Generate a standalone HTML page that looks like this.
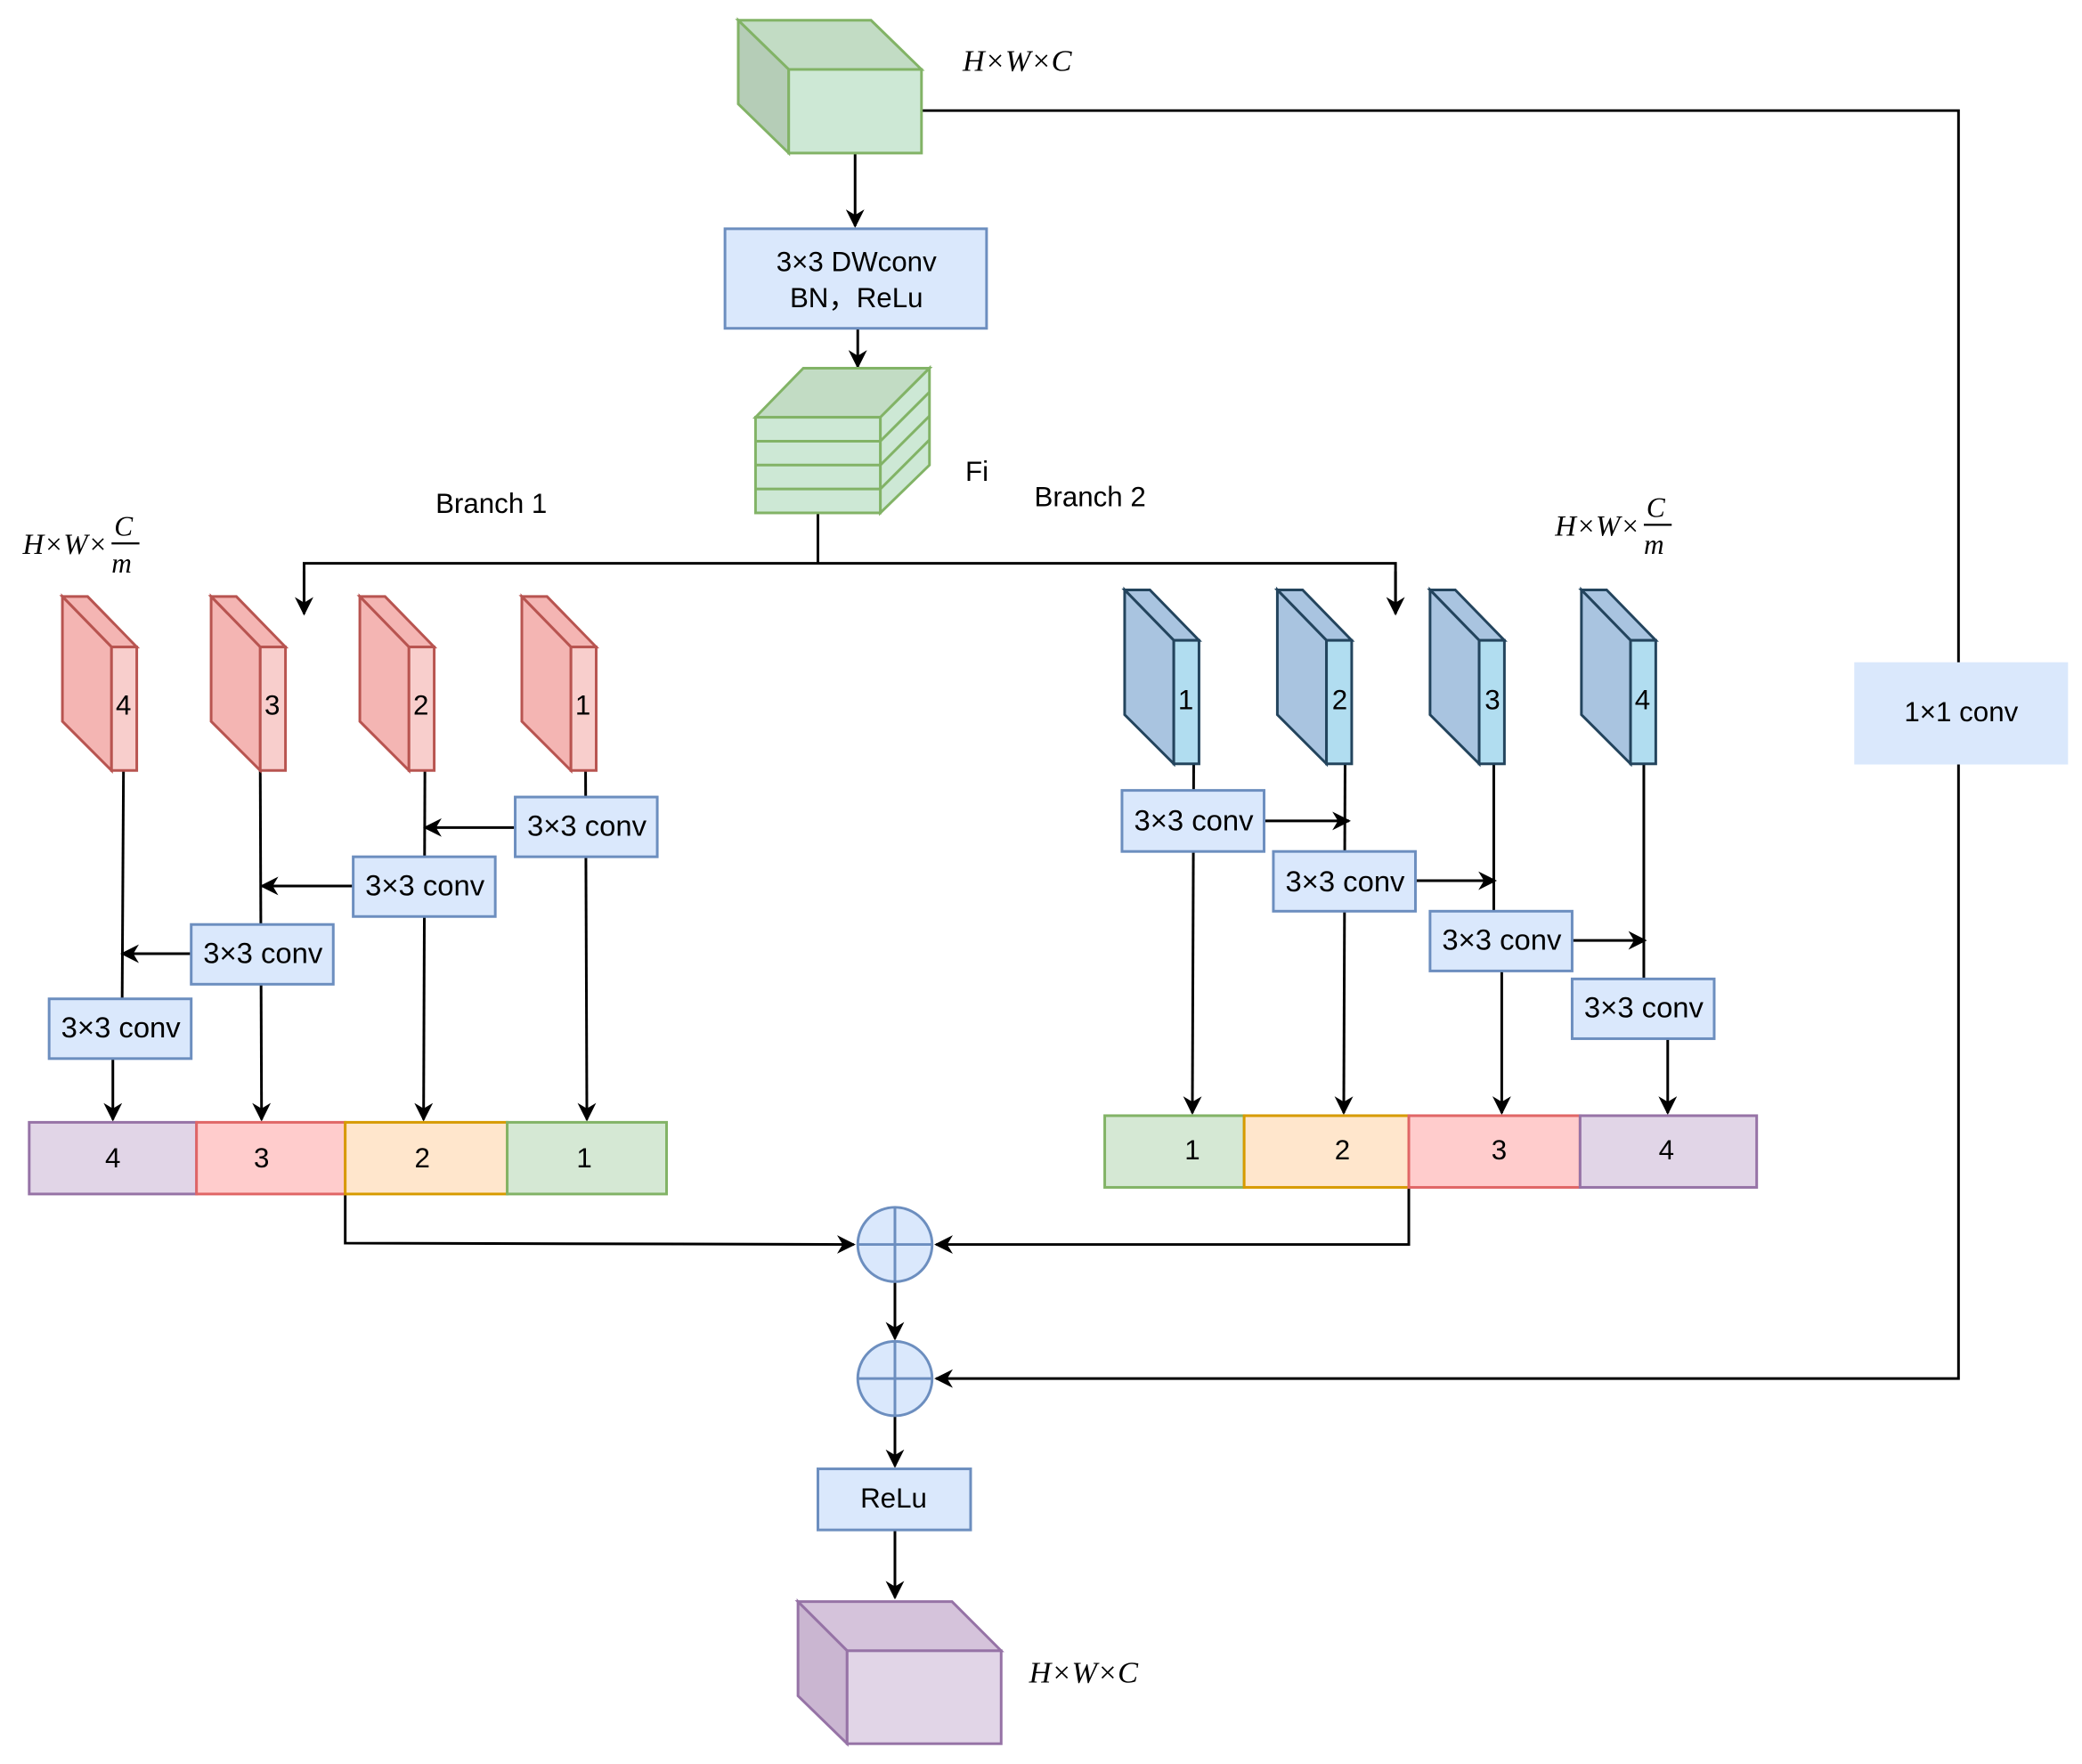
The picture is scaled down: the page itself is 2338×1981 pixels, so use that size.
<!DOCTYPE html>
<html><head><meta charset="utf-8"><style>
html,body{margin:0;padding:0;background:#fff;}
svg{display:block;}
text{font-family:"Liberation Sans",sans-serif;fill:#000;}
.m{font-family:"Liberation Serif",serif;font-style:italic;}
</style></head><body>
<svg width="2338" height="1981" viewBox="0 0 1568 1328" xmlns="http://www.w3.org/2000/svg">
<defs>
<marker id="b" viewBox="0 0 10 10" refX="9" refY="5" markerWidth="14" markerHeight="14" orient="auto" markerUnits="userSpaceOnUse">
<path d="M0,0 L10,5 L0,10 L3,5 z" fill="#000"/></marker>
</defs>
<g stroke="#000" stroke-width="2" fill="none">
<polyline points="694,83 1475,83 1475,1038 705,1038" marker-end="url(#b)"/>
<line x1="644" y1="115" x2="644" y2="170" marker-end="url(#b)"/>
<line x1="646" y1="247" x2="646" y2="276" marker-end="url(#b)"/>
<polyline points="616,386 616,424"/>
<polyline points="229,462 229,424 1051,424 1051,462" />
<line x1="229" y1="430" x2="229" y2="462" marker-end="url(#b)"/>
<line x1="1051" y1="430" x2="1051" y2="462" marker-end="url(#b)"/>
<line x1="93" y1="580" x2="92" y2="752"/>
<line x1="85" y1="797" x2="85" y2="843" marker-end="url(#b)"/>
<line x1="196" y1="580" x2="197" y2="843" marker-end="url(#b)"/>
<line x1="320" y1="580" x2="319" y2="843" marker-end="url(#b)"/>
<line x1="441" y1="580" x2="442" y2="843" marker-end="url(#b)"/>
<line x1="388" y1="623" x2="320" y2="623" marker-end="url(#b)"/>
<line x1="266" y1="667" x2="197" y2="667" marker-end="url(#b)"/>
<line x1="144" y1="718" x2="92" y2="718" marker-end="url(#b)"/>
<line x1="899" y1="575" x2="898" y2="838" marker-end="url(#b)"/>
<line x1="1013" y1="575" x2="1012" y2="838" marker-end="url(#b)"/>
<line x1="1125" y1="575" x2="1125" y2="686"/>
<line x1="1131" y1="731" x2="1131" y2="838" marker-end="url(#b)"/>
<line x1="1238" y1="575" x2="1238" y2="737"/>
<line x1="1256" y1="782" x2="1256" y2="838" marker-end="url(#b)"/>
<line x1="952" y1="618" x2="1016" y2="618" marker-end="url(#b)"/>
<line x1="1066" y1="663" x2="1126" y2="663" marker-end="url(#b)"/>
<line x1="1184" y1="708" x2="1239" y2="708" marker-end="url(#b)"/>
<polyline points="260,899 260,936 643,937" marker-end="url(#b)"/>
<polyline points="1061,894 1061,937 705,937" marker-end="url(#b)"/>
<line x1="674" y1="965" x2="674" y2="1008" marker-end="url(#b)"/>
<line x1="674" y1="1066" x2="674" y2="1104" marker-end="url(#b)"/>
<line x1="674" y1="1152" x2="674" y2="1203" marker-end="url(#b)"/>
</g>

<g stroke="#82b366" stroke-width="2">
<polygon points="556,15 656,15 694,52 594,52" fill="#c2dcc4"/>
<polygon points="556,15 594,52 594,115 556,78" fill="#b5cdb7"/>
<rect x="594" y="52" width="100" height="63" fill="#cde8d5"/>
</g>
<text class="m" x="725" y="53" font-size="23">H×W×C</text>

<rect x="1397" y="499" width="160" height="76" fill="#dae8fc" stroke="#dae8fc"/>
<text x="1477" y="543" font-size="21" text-anchor="middle">1×1  conv</text>

<rect x="546" y="172" width="197" height="75" fill="#dae8fc" stroke="#6c8ebf" stroke-width="2"/>
<text x="645" y="204" font-size="21" text-anchor="middle">3×3  DWconv</text>
<text x="645" y="231" font-size="21" text-anchor="middle">BN，ReLu</text>

<g stroke="#82b366" stroke-width="2">
<polygon points="569,314 605,277 700,277 663,314" fill="#c2dcc4"/>
<polygon points="663,314 700,277 700,350 663,386" fill="#cde8d5"/>
<rect x="569" y="314" width="94" height="72" fill="#cde8d5"/>
<line x1="569" y1="332" x2="663" y2="332"/><line x1="569" y1="350" x2="663" y2="350"/><line x1="569" y1="368" x2="663" y2="368"/>
<line x1="663" y1="332" x2="700" y2="295"/><line x1="663" y1="350" x2="700" y2="313"/><line x1="663" y1="368" x2="700" y2="331"/>
</g>
<text x="727" y="362" font-size="21">Fi</text>
<text x="328" y="386" font-size="21">Branch 1</text>
<text x="779" y="381" font-size="21">Branch 2</text>

<text class="m" x="81" y="417" font-size="22" text-anchor="end">H×W×</text>
<text class="m" x="86" y="403" font-size="21">C</text>
<line x1="84" y1="409" x2="105" y2="409" stroke="#000" stroke-width="1.5"/>
<text class="m" x="84" y="431" font-size="21">m</text>
<text class="m" x="1235" y="403" font-size="22" text-anchor="end">H×W×</text>
<text class="m" x="1240" y="389" font-size="21">C</text>
<line x1="1238" y1="395" x2="1259" y2="395" stroke="#000" stroke-width="1.5"/>
<text class="m" x="1238" y="417" font-size="21">m</text>

<g stroke="#b85450" stroke-width="2">
<g><polygon points="47,449 66,449 103,487 84,487" fill="#f4b5b3"/><polygon points="47,449 84,487 84,580 47,543" fill="#f4b5b3"/><rect x="84" y="487" width="19" height="93" fill="#f8cecc"/></g>
<g><polygon points="159,449 178,449 215,487 196,487" fill="#f4b5b3"/><polygon points="159,449 196,487 196,580 159,543" fill="#f4b5b3"/><rect x="196" y="487" width="19" height="93" fill="#f8cecc"/></g>
<g><polygon points="271,449 290,449 327,487 308,487" fill="#f4b5b3"/><polygon points="271,449 308,487 308,580 271,543" fill="#f4b5b3"/><rect x="308" y="487" width="19" height="93" fill="#f8cecc"/></g>
<g><polygon points="393,449 412,449 449,487 430,487" fill="#f4b5b3"/><polygon points="393,449 430,487 430,580 393,543" fill="#f4b5b3"/><rect x="430" y="487" width="19" height="93" fill="#f8cecc"/></g>
</g>
<g font-size="21" text-anchor="middle">
<text x="93" y="538">4</text><text x="205" y="538">3</text><text x="317" y="538">2</text><text x="439" y="538">1</text>
</g>
<g stroke="#23445d" stroke-width="2">
<g><polygon points="847,444 866,444 903,482 884,482" fill="#a9c4e0"/><polygon points="847,444 884,482 884,575 847,538" fill="#a9c4e0"/><rect x="884" y="482" width="19" height="93" fill="#b1ddf0"/></g>
<g><polygon points="962,444 981,444 1018,482 999,482" fill="#a9c4e0"/><polygon points="962,444 999,482 999,575 962,538" fill="#a9c4e0"/><rect x="999" y="482" width="19" height="93" fill="#b1ddf0"/></g>
<g><polygon points="1077,444 1096,444 1133,482 1114,482" fill="#a9c4e0"/><polygon points="1077,444 1114,482 1114,575 1077,538" fill="#a9c4e0"/><rect x="1114" y="482" width="19" height="93" fill="#b1ddf0"/></g>
<g><polygon points="1191,444 1210,444 1247,482 1228,482" fill="#a9c4e0"/><polygon points="1191,444 1228,482 1228,575 1191,538" fill="#a9c4e0"/><rect x="1228" y="482" width="19" height="93" fill="#b1ddf0"/></g>
</g>
<g font-size="21" text-anchor="middle">
<text x="893" y="534">1</text><text x="1009" y="534">2</text><text x="1124" y="534">3</text><text x="1237" y="534">4</text>
</g>

<g fill="#dae8fc" stroke="#6c8ebf" stroke-width="2">
<rect x="37" y="752" width="107" height="45"/>
<rect x="144" y="696" width="107" height="45"/>
<rect x="266" y="645" width="107" height="45"/>
<rect x="388" y="600" width="107" height="45"/>
<rect x="845" y="595" width="107" height="46"/>
<rect x="959" y="641" width="107" height="45"/>
<rect x="1077" y="686" width="107" height="45"/>
<rect x="1184" y="737" width="107" height="45"/>
</g>
<g font-size="22" text-anchor="middle">
<text x="91" y="781">3×3 conv</text>
<text x="198" y="725">3×3 conv</text>
<text x="320" y="674">3×3 conv</text>
<text x="442" y="629">3×3 conv</text>
<text x="899" y="625">3×3 conv</text>
<text x="1013" y="671">3×3 conv</text>
<text x="1131" y="715">3×3 conv</text>
<text x="1238" y="766">3×3 conv</text>
</g>

<g stroke-width="2">
<rect x="22" y="845" width="126" height="54" fill="#e1d5e7" stroke="#9673a6"/>
<rect x="148" y="845" width="112" height="54" fill="#ffcccc" stroke="#e06666"/>
<rect x="260" y="845" width="122" height="54" fill="#ffe6cc" stroke="#d79b00"/>
<rect x="382" y="845" width="120" height="54" fill="#d5e8d4" stroke="#82b366"/>
<rect x="832" y="840" width="105" height="54" fill="#d5e8d4" stroke="#82b366"/>
<rect x="937" y="840" width="124" height="54" fill="#ffe6cc" stroke="#d79b00"/>
<rect x="1061" y="840" width="129" height="54" fill="#ffcccc" stroke="#e06666"/>
<rect x="1190" y="840" width="133" height="54" fill="#e1d5e7" stroke="#9673a6"/>
</g>
<g font-size="21" text-anchor="middle">
<text x="85" y="879">4</text><text x="197" y="879">3</text><text x="318" y="879">2</text><text x="440" y="879">1</text>
<text x="898" y="873">1</text><text x="1011" y="873">2</text><text x="1129" y="873">3</text><text x="1255" y="873">4</text>
</g>

<g fill="#dae8fc" stroke="#6c8ebf" stroke-width="2">
<circle cx="674" cy="937" r="28"/><line x1="646" y1="937" x2="702" y2="937"/><line x1="674" y1="909" x2="674" y2="965"/>
<circle cx="674" cy="1038" r="28"/><line x1="646" y1="1038" x2="702" y2="1038"/><line x1="674" y1="1010" x2="674" y2="1066"/>
</g>

<rect x="616" y="1106" width="115" height="46" fill="#dae8fc" stroke="#6c8ebf" stroke-width="2"/>
<text x="673" y="1135" font-size="21" text-anchor="middle">ReLu</text>

<g stroke="#9673a6" stroke-width="2">
<polygon points="601,1206 717,1206 754,1243 638,1243" fill="#d5c3db"/>
<polygon points="601,1206 638,1243 638,1313 601,1277" fill="#cab6d1"/>
<rect x="638" y="1243" width="116" height="70" fill="#e1d5e7"/>
</g>
<text class="m" x="775" y="1267" font-size="23">H×W×C</text>
</svg>
</body></html>
